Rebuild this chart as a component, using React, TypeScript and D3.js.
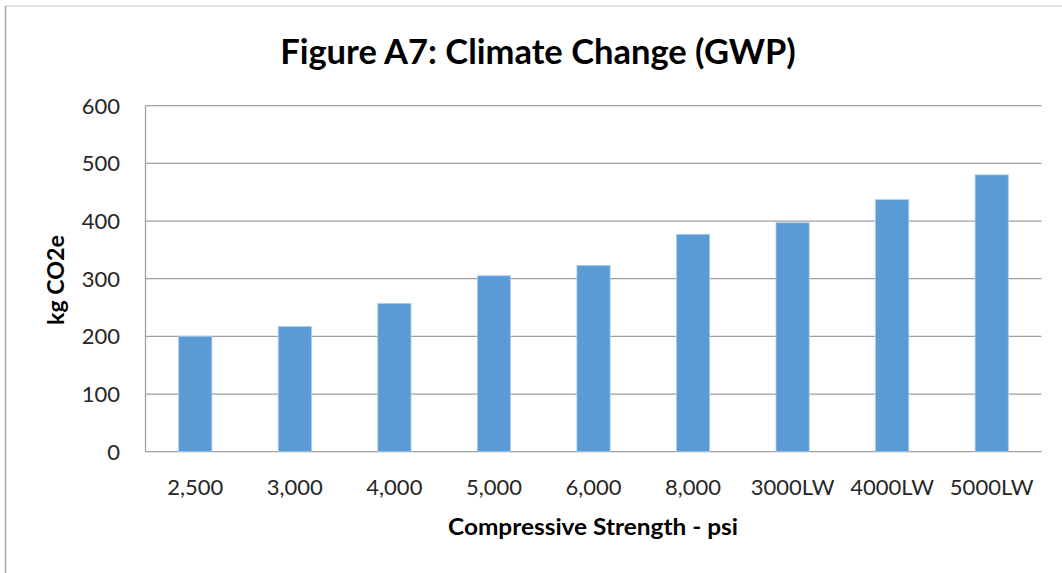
import React from "react";
import * as d3 from "d3";

const title = "Figure A7: Climate Change (GWP)";
const xTitle = "Compressive Strength - psi";
const yTitle = "kg CO2e";
const categories = ["2,500", "3,000", "4,000", "5,000", "6,000", "8,000", "3000LW", "4000LW", "5000LW"];
const values = [200, 217, 257, 305, 323, 377, 397, 437, 480];
const yTicks = [0, 100, 200, 300, 400, 500, 600];

const W = 1062;
const H = 573;
const FONT = "Lato, 'Open Sans', sans-serif";

export default function App() {
  const x = d3.scaleBand<string>().domain(categories).range([145.5, 1041.5]).padding(0);
  const y = d3.scaleLinear().domain([0, 600]).range([451.7, 105.7]);
  const step = x.step();
  const bw = step / 3;

  return (
    <svg width={W} height={H} style={{ position: "absolute", left: 0, top: 0, background: "#fff" }}>
      <rect x={0} y={0} width={W} height={H} fill="#fff" />
      {/* chart border */}
      <line x1={5.5} y1={6} x2={W} y2={6} stroke="#D9D9D9" strokeWidth={1.5} />
      <line x1={5.5} y1={6} x2={5.5} y2={H} stroke="#A6A6A6" strokeWidth={1.5} />

      {/* title */}
      <text x={538} y={64} textAnchor="middle" fontFamily={FONT} fontWeight={700} fontSize={34.5} fill="#000">
        {title}
      </text>

      {/* gridlines */}
      {yTicks.map((t) => (
        <line key={t} x1={145.5} x2={1041.5} y1={y(t)} y2={y(t)} stroke="#A0A0A0" strokeWidth={1.3} />
      ))}
      {/* left axis */}
      <line x1={145.5} x2={145.5} y1={y(600)} y2={y(0)} stroke="#A0A0A0" strokeWidth={1.3} />

      {/* bars */}
      {categories.map((c, i) => (
        <rect
          key={c}
          x={(x(c) as number) + bw}
          y={y(values[i])}
          width={bw}
          height={y(0) - y(values[i])}
          fill="#5B9BD5"
          stroke="#A9CBEB"
          strokeWidth={0.8}
        />
      ))}

      {/* y tick labels */}
      {yTicks.map((t) => (
        <text key={t} x={120} y={y(t)} dy="0.36em" textAnchor="end" fontFamily={FONT} fontSize={22} fill="#262626">
          {t}
        </text>
      ))}

      {/* x tick labels */}
      {categories.map((c) => (
        <text key={c} x={(x(c) as number) + step / 2} y={495} textAnchor="middle" fontFamily={FONT} fontSize={22} fill="#262626">
          {c}
        </text>
      ))}

      {/* axis titles */}
      <text x={593} y={535} textAnchor="middle" fontFamily={FONT} fontWeight={700} fontSize={22} textLength={290} lengthAdjust="spacingAndGlyphs" fill="#000">
        {xTitle}
      </text>
      <text
        transform={`translate(64, ${280}) rotate(-90)`}
        textAnchor="middle"
        fontFamily={FONT}
        fontWeight={700}
        fontSize={22}
        textLength={90}
        lengthAdjust="spacingAndGlyphs"
        fill="#000"
      >
        {yTitle}
      </text>
    </svg>
  );
}
